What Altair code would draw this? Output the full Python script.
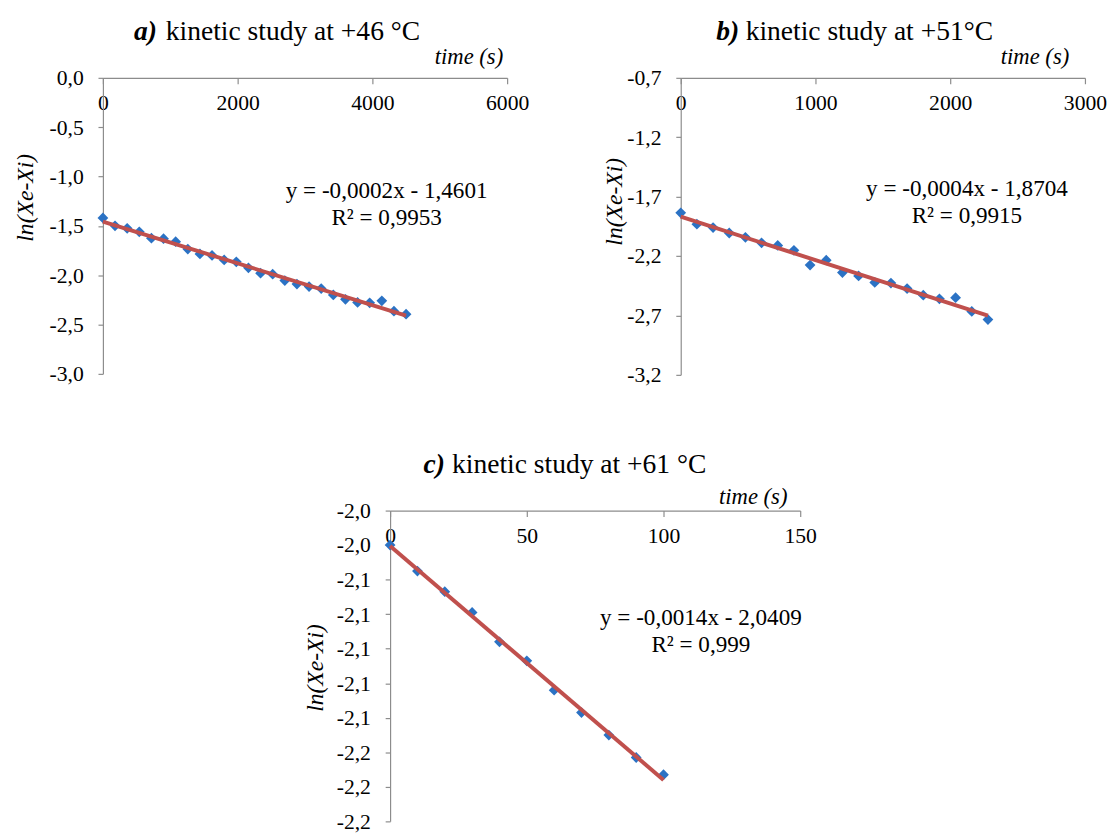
import altair as alt
import pandas as pd

# ---------------- data ----------------
A_TIME = [0, 180, 360, 540, 720, 900, 1080, 1260, 1440, 1620, 1800, 1980, 2160,
          2340, 2520, 2700, 2880, 3060, 3240, 3420, 3600, 3780, 3960, 4140, 4320, 4500]
A_LN = [-1.42, -1.50, -1.525, -1.56, -1.625, -1.63, -1.66, -1.735, -1.785, -1.80,
        -1.845, -1.865, -1.925, -1.98, -1.99, -2.055, -2.09, -2.115, -2.135, -2.20,
        -2.245, -2.276, -2.28, -2.26, -2.365, -2.395]

B_TIME = [0, 120, 240, 360, 480, 600, 720, 840, 960, 1080, 1200, 1320, 1440, 1560,
          1680, 1800, 1920, 2040, 2160, 2280]
B_LN = [-1.836, -1.932, -1.960, -2.006, -2.042, -2.089, -2.111, -2.152, -2.276, -2.235,
        -2.339, -2.367, -2.422, -2.427, -2.474, -2.529, -2.56, -2.55, -2.666, -2.735]

C_TIME = [0, 10, 20, 30, 40, 50, 60, 70, 80, 90, 100]
C_LN = [-2.040, -2.055, -2.067, -2.079, -2.096, -2.107, -2.124, -2.137, -2.150, -2.163, -2.173]

A_XTICKS = [0, 2000, 4000, 6000]
B_XTICKS = [0, 1000, 2000, 3000]
C_XTICKS = [0, 50, 100, 150]
A_YTICKS = [0.0, -0.5, -1.0, -1.5, -2.0, -2.5, -3.0]
B_YTICKS = [-0.7, -1.2, -1.7, -2.2, -2.7, -3.2]
C_YTICKS = [-2.02, -2.04, -2.06, -2.08, -2.10, -2.12, -2.14, -2.16, -2.18, -2.20]

TITLES = [("a)", "kinetic study at +46 °C"),
          ("b)", "kinetic study at +51°C"),
          ("c)", "kinetic study at +61 °C")]
EQUATIONS = [("y = -0,0002x - 1,4601", "R² = 0,9953"),
             ("y = -0,0004x - 1,8704", "R² = 0,9915"),
             ("y = -0,0014x - 2,0409", "R² = 0,999")]
X_TITLE = "time (s)"
Y_TITLE = "ln(Xe-Xi)"

FONT = "Liberation Serif"
BLUE = "#2B72C4"
RED = "#C0504D"
GRAY = "#8C8C8C"

LABEL_EXPR = "(datum.value < 0 ? '-' : '') + replace(format(abs(datum.value), '.1f'), '.', ',')"


def txt(s, x, y, size, align="left", baseline="alphabetic", style="normal",
        weight="normal", angle=0):
    return alt.Chart(pd.DataFrame({"s": [s]})).mark_text(
        font=FONT, fontSize=size, align=align, baseline=baseline,
        fontStyle=style, fontWeight=weight, angle=angle, color="black"
    ).encode(x=alt.value(x), y=alt.value(y), text="s:N")


def panel(times, lns, xdom, xticks, ydom, yticks, w, h, title, eq, lay):
    df = pd.DataFrame({"t": times, "v": lns})
    base = alt.Chart(df).encode(
        x=alt.X("t:Q", scale=alt.Scale(domain=xdom, nice=False, zero=False),
                axis=alt.Axis(orient="bottom", offset=-h, values=xticks, format="d",
                              title=None, labelFlush=False, labelOverlap=False,
                              tickSize=6, labelPadding=9, grid=False)),
        y=alt.Y("v:Q", scale=alt.Scale(domain=ydom, nice=False, zero=False),
                axis=alt.Axis(values=yticks, labelExpr=LABEL_EXPR, title=None,
                              labelFlush=False, labelOverlap=False,
                              tickSize=5, labelPadding=15, grid=False)),
    )
    pts = base.mark_point(shape="diamond", filled=True, size=120, color=BLUE, opacity=1)
    line = base.transform_regression("t", "v").mark_line(color=RED, strokeWidth=4)
    layers = [
        pts, line,
        txt(title[0], lay["tx"], -38, 28, style="italic", weight="bold"),
        txt(title[1], lay["rx"], -38, 28),
        txt(X_TITLE, w - lay["xt_dx"], lay["xt_y"], 23, align="right", style="italic"),
        txt(Y_TITLE, lay["yt_x"], lay["yt_y"], 24, align="center", baseline="middle",
            style="italic", angle=270),
        txt(eq[0], lay["ex"], lay["ey"], 23.5, align="center"),
        txt(eq[1], lay["ex"], lay["ey"] + 28, 23.5, align="center"),
    ]
    return alt.layer(*layers).properties(width=w, height=h)


pa = panel(A_TIME, A_LN, [0, 6000], A_XTICKS, [-3.0, 0.0], A_YTICKS, 411, 301,
           TITLES[0], EQUATIONS[0],
           dict(tx=31.5, rx=64, xt_dx=4, xt_y=-14, yt_x=-78, yt_y=122, ex=288.5, ey=122))
pb = panel(B_TIME, B_LN, [0, 3000], B_XTICKS, [-3.2, -0.7], B_YTICKS, 411, 302,
           TITLES[1], EQUATIONS[1],
           dict(tx=36, rx=66, xt_dx=16, xt_y=-14, yt_x=-67, yt_y=126, ex=291, ey=120))
pc = panel(C_TIME, C_LN, [0, 150], C_XTICKS, [-2.20, -2.02], C_YTICKS, 417, 316,
           TITLES[2], EQUATIONS[2],
           dict(tx=34, rx=63, xt_dx=13, xt_y=-7, yt_x=-75, yt_y=160, ex=316, ey=116))

spacer = alt.Chart(pd.DataFrame({"v": [0]})).mark_point(opacity=0).encode(
    x=alt.value(0), y=alt.value(0)).properties(width=291.5, height=10)

top = alt.hconcat(pa, pb, spacing=176.5, bounds="flush")
bottom = alt.hconcat(spacer, pc, spacing=0, bounds="flush")

chart = alt.vconcat(top, bottom, spacing=440, bounds="flush").configure_view(
    stroke=None
).configure_axis(
    domainColor=GRAY, tickColor=GRAY, domainWidth=1.2, tickWidth=1.2,
    labelFont=FONT, labelFontSize=22, labelColor="black",
).properties(
    padding={"left": 6.5, "top": 4, "right": 5, "bottom": 5},
    background="white",
)

chart.save("out.html", embed_options={"renderer": "svg", "actions": False})
